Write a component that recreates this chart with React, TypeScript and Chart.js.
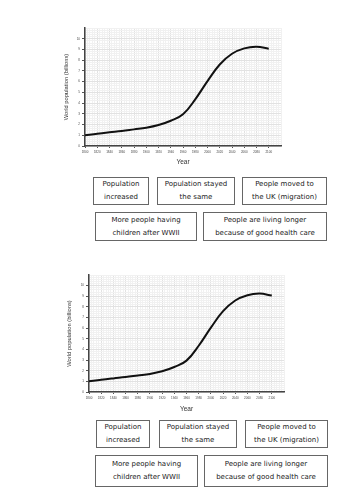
import React, { useEffect, useRef } from "react";
import { Chart, registerables } from "chart.js";

Chart.register(...registerables);

const years = [1800, 1820, 1840, 1860, 1880, 1900, 1920, 1940, 1960, 1980, 2000, 2020, 2040, 2060, 2080, 2100];
const population = [1.0, 1.15, 1.28, 1.4, 1.55, 1.7, 1.95, 2.35, 2.95, 4.35, 6.05, 7.6, 8.6, 9.1, 9.25, 9.07];
const yTickLabels = ["0", "1", "2", "3", "4", "5", "6", "7", "8", "9", "10"];
const xTickLabels = ["1800", "1820", "1840", "1860", "1880", "1900", "1920", "1940", "1960", "1980", "2000", "2020", "2040", "2060", "2080", "2100"];
const yTitle = "World population (billions)";
const xTitle = "Year";
const cardsRow1 = [
  ["Population", "increased"],
  ["Population stayed", "the same"],
  ["People moved to", "the UK (migration)"],
];
const cardsRow2 = [
  ["More people having", "children after WWII"],
  ["People are living longer", "because of good health care"],
];

type ChartBoxProps = {
  top: number;
  height: number;
  padLeft: number;
  padRight: number;
  padTop: number;
  padBottom: number;
  yWidth: number;
  xHeight: number;
  yTitlePad: number;
};

const isMajorY = (v: number) => Math.abs(v - Math.round(v)) < 1e-6 && yTickLabels.includes(String(Math.round(v)));
const isMajorX = (v: number) => xTickLabels.includes(String(Math.round(v))) && Math.abs(v - Math.round(v)) < 1e-6;

function PopulationChart(p: ChartBoxProps) {
  const ref = useRef<HTMLCanvasElement | null>(null);
  useEffect(() => {
    if (!ref.current) return;
    const chart = new Chart(ref.current, {
      type: "line",
      data: {
        datasets: [
          {
            data: years.map((y, i) => ({ x: y, y: population[i] })),
            borderColor: "#111",
            borderWidth: 2,
            pointRadius: 0,
            fill: false,
            tension: 0.4,
          },
        ],
      },
      options: {
        animation: false,
        responsive: false,
        maintainAspectRatio: false,
        layout: { padding: { left: p.padLeft, right: p.padRight, top: p.padTop, bottom: p.padBottom } },
        plugins: { legend: { display: false }, tooltip: { enabled: false } },
        scales: {
          x: {
            type: "linear",
            min: 1800,
            max: 2120,
            afterFit: (s: any) => {
              s.height = p.xHeight;
            },
            border: { display: true, color: "#444", width: 1.5 },
            grid: {
              color: (c: any) => (c.tick && isMajorX(c.tick.value) ? "#e2e2e2" : "#f1f1f1"),
              tickColor: (c: any) => (c.tick && isMajorX(c.tick.value) ? "#555" : "rgba(0,0,0,0)"),
              tickLength: 2,
              lineWidth: 1,
            },
            ticks: {
              stepSize: 4,
              autoSkip: false,
              maxTicksLimit: 1000,
              maxRotation: 0,
              minRotation: 0,
              padding: 2,
              color: "#444",
              font: { family: "Liberation Sans", size: 3 },
              callback: (v: any) => (isMajorX(Number(v)) ? String(Math.round(Number(v))) : ""),
            },
            title: {
              display: true,
              text: xTitle,
              color: "#333",
              font: { family: "Liberation Sans", size: 6.5 },
              padding: { top: 0, bottom: 0 },
            },
          },
          y: {
            type: "linear",
            min: 0,
            max: 11,
            afterFit: (s: any) => {
              s.width = p.yWidth;
            },
            border: { display: true, color: "#444", width: 1.5 },
            grid: {
              color: (c: any) => (c.tick && isMajorY(c.tick.value) ? "#e2e2e2" : "#f1f1f1"),
              tickColor: (c: any) => (c.tick && isMajorY(c.tick.value) ? "#555" : "rgba(0,0,0,0)"),
              tickLength: 3,
              lineWidth: 1,
            },
            ticks: {
              stepSize: 0.2,
              autoSkip: false,
              maxTicksLimit: 1000,
              padding: 2,
              color: "#444",
              font: { family: "Liberation Sans", size: 3 },
              callback: (v: any) => (isMajorY(Number(v)) ? String(Math.round(Number(v))) : ""),
            },
            title: {
              display: true,
              text: yTitle,
              color: "#333",
              font: { family: "Liberation Sans", size: 5.8 },
              padding: { top: p.yTitlePad, bottom: 0 },
            },
          },
        },
      },
    });
    return () => chart.destroy();
  }, []);
  return (
    <canvas
      ref={ref}
      width={354}
      height={p.height}
      style={{ position: "absolute", left: 0, top: p.top, width: 354, height: p.height }}
    />
  );
}

type Box = { left: number; top: number; w: number; h: number };

function Cards({ boxes }: { boxes: Box[] }) {
  const texts = [...cardsRow1, ...cardsRow2];
  return (
    <>
      {boxes.map((b, i) => (
        <div
          key={i}
          style={{
            position: "absolute",
            left: b.left,
            top: b.top,
            width: b.w,
            height: b.h,
            boxSizing: "border-box",
            border: "1px solid #666",
            background: "#fff",
            display: "flex",
            flexDirection: "column",
            alignItems: "center",
            justifyContent: "center",
            fontFamily: "'DejaVu Sans', sans-serif",
            fontSize: 7,
            lineHeight: "13px",
            color: "#222",
            whiteSpace: "nowrap",
          }}
        >
          <div>{texts[i][0]}</div>
          <div>{texts[i][1]}</div>
        </div>
      ))}
    </>
  );
}

const boxes1: Box[] = [
  { left: 93, top: 177, w: 56, h: 28 },
  { left: 157, top: 177, w: 78, h: 28 },
  { left: 242, top: 177, w: 85, h: 28 },
  { left: 95, top: 212, w: 102, h: 29 },
  { left: 203, top: 212, w: 124, h: 29 },
];
const boxes2: Box[] = [
  { left: 96, top: 420, w: 54, h: 28 },
  { left: 159, top: 420, w: 78, h: 28 },
  { left: 245, top: 420, w: 83, h: 28 },
  { left: 95, top: 455, w: 103, h: 32 },
  { left: 204, top: 455, w: 124, h: 32 },
];

export default function App() {
  return (
    <div style={{ position: "absolute", left: 0, top: 0, width: 354, height: 500, background: "#fff", overflow: "hidden" }}>
      <PopulationChart top={0} height={172} padLeft={60} padRight={73} padTop={28} padBottom={6} yWidth={25} xHeight={20} yTitlePad={3.2} />
      <PopulationChart top={250} height={170} padLeft={64} padRight={70} padTop={25} padBottom={7} yWidth={25} xHeight={21} yTitlePad={2.3} />
      <Cards boxes={boxes1} />
      <Cards boxes={boxes2} />
    </div>
  );
}
